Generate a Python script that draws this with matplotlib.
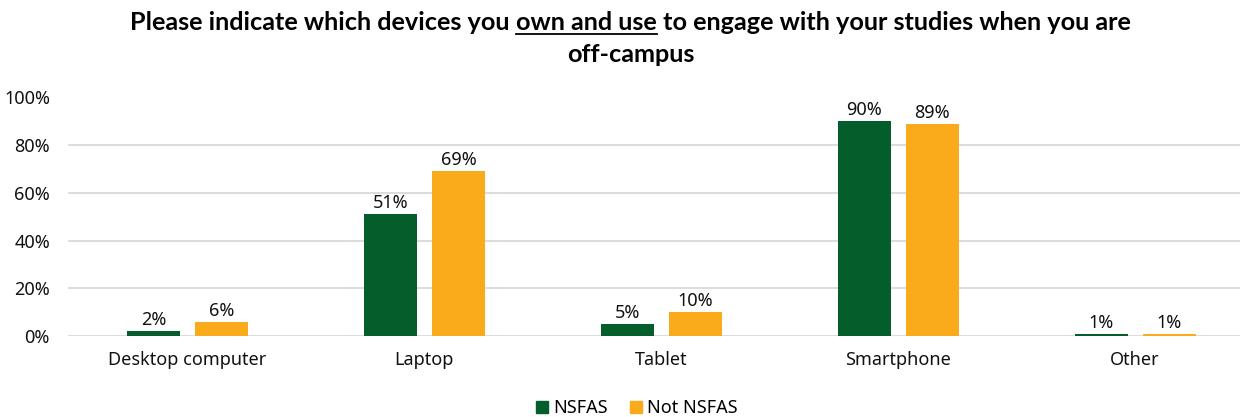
import matplotlib
matplotlib.use("Agg")
import matplotlib.pyplot as plt
import numpy as np
from matplotlib.lines import Line2D
from matplotlib.patches import Patch

categories = ["Desktop computer", "Laptop", "Tablet", "Smartphone", "Other"]
nsfas = [2, 51, 5, 90, 1]
not_nsfas = [6, 69, 10, 89, 1]
series_names = ["NSFAS", "Not NSFAS"]
yticks = [0, 20, 40, 60, 80, 100]
ytick_labels = ["0%", "20%", "40%", "60%", "80%", "100%"]

GREEN = "#035e2b"
ORANGE = "#f9ab1b"
FONT = "Noto Sans"

plt.rcParams["font.family"] = [FONT, "DejaVu Sans"]

W, H = 1240, 417
fig = plt.figure(figsize=(W / 100, H / 100), dpi=100)
ax = fig.add_axes([68 / W, 1 - 336 / H, (1240 - 68) / W, (336 - 97.5) / H])

x = np.arange(len(categories))
bw = 0.224
off = 0.1435
b1 = ax.bar(x - off, nsfas, bw, color=GREEN, label=series_names[0], zorder=3)
b2 = ax.bar(x + off, not_nsfas, bw, color=ORANGE, label=series_names[1], zorder=3)
for bars, vals in ((b1, nsfas), (b2, not_nsfas)):
    for r, v in zip(bars, vals):
        ax.annotate(f"{v}%", (r.get_x() + r.get_width() / 2, v), xytext=(0, 1.5),
                    textcoords="offset points", ha="center", va="bottom",
                    fontsize=13, color="#111111")

spacing = 236.9
ax.set_xlim((68 - 187.5) / spacing, (1240 - 187.5) / spacing)
ax.set_ylim(0, 100)
ax.set_yticks(yticks)
ax.set_yticklabels(ytick_labels, fontsize=13)
ax.set_xticks(x)
ax.set_xticklabels(categories, fontsize=13)
ax.tick_params(axis="both", length=0, colors="#111111")
ax.tick_params(axis="x", pad=11)
ax.tick_params(axis="y", pad=13)
ax.grid(axis="y", color="#d9d9d9", linewidth=1.3, zorder=0)
for s in ax.spines.values():
    s.set_visible(False)
ax.set_axisbelow(True)

leg = fig.legend(handles=[Patch(color=GREEN), Patch(color=ORANGE)], labels=series_names,
                 loc="center", bbox_to_anchor=(637 / W, 1 - 408 / H), ncol=2, frameon=False,
                 fontsize=13, handlelength=0.65, handleheight=0.65, handletextpad=0.3,
                 columnspacing=1.2, borderaxespad=0)

# Title with underlined segment
renderer = fig.canvas.get_renderer()
parts = ["Please indicate which devices you ", "own and use", " to engage with your studies when you are"]
tfam = ["Lato", "DejaVu Sans"]
tprops = dict(fontweight="bold", family=tfam, color="#000000")
texts = [fig.text(0, 0, p, transform=None, va="baseline", ha="left", fontsize=17, **tprops) for p in parts]
widths = [t.get_window_extent(renderer).width for t in texts]
scale = 1005.0 / sum(widths)
fs = 17 * scale
for t in texts:
    t.set_fontsize(fs)
widths = [t.get_window_extent(renderer).width for t in texts]
total = sum(widths)
y1 = H - 30
cx = 630.5
xs = cx - total / 2
cur = xs
for t, w in zip(texts, widths):
    t.set_position((cur, y1))
    cur += w
ux0 = xs + widths[0]
ux1 = ux0 + widths[1]
fig.add_artist(Line2D([ux0, ux1], [y1 - 3.5, y1 - 3.5], transform=None, color="#000000", linewidth=1.3))
fig.text(cx, H - 62, "off-campus", transform=None, ha="center", va="baseline", fontsize=fs, **tprops)

fig.savefig("out.png", dpi=100)
